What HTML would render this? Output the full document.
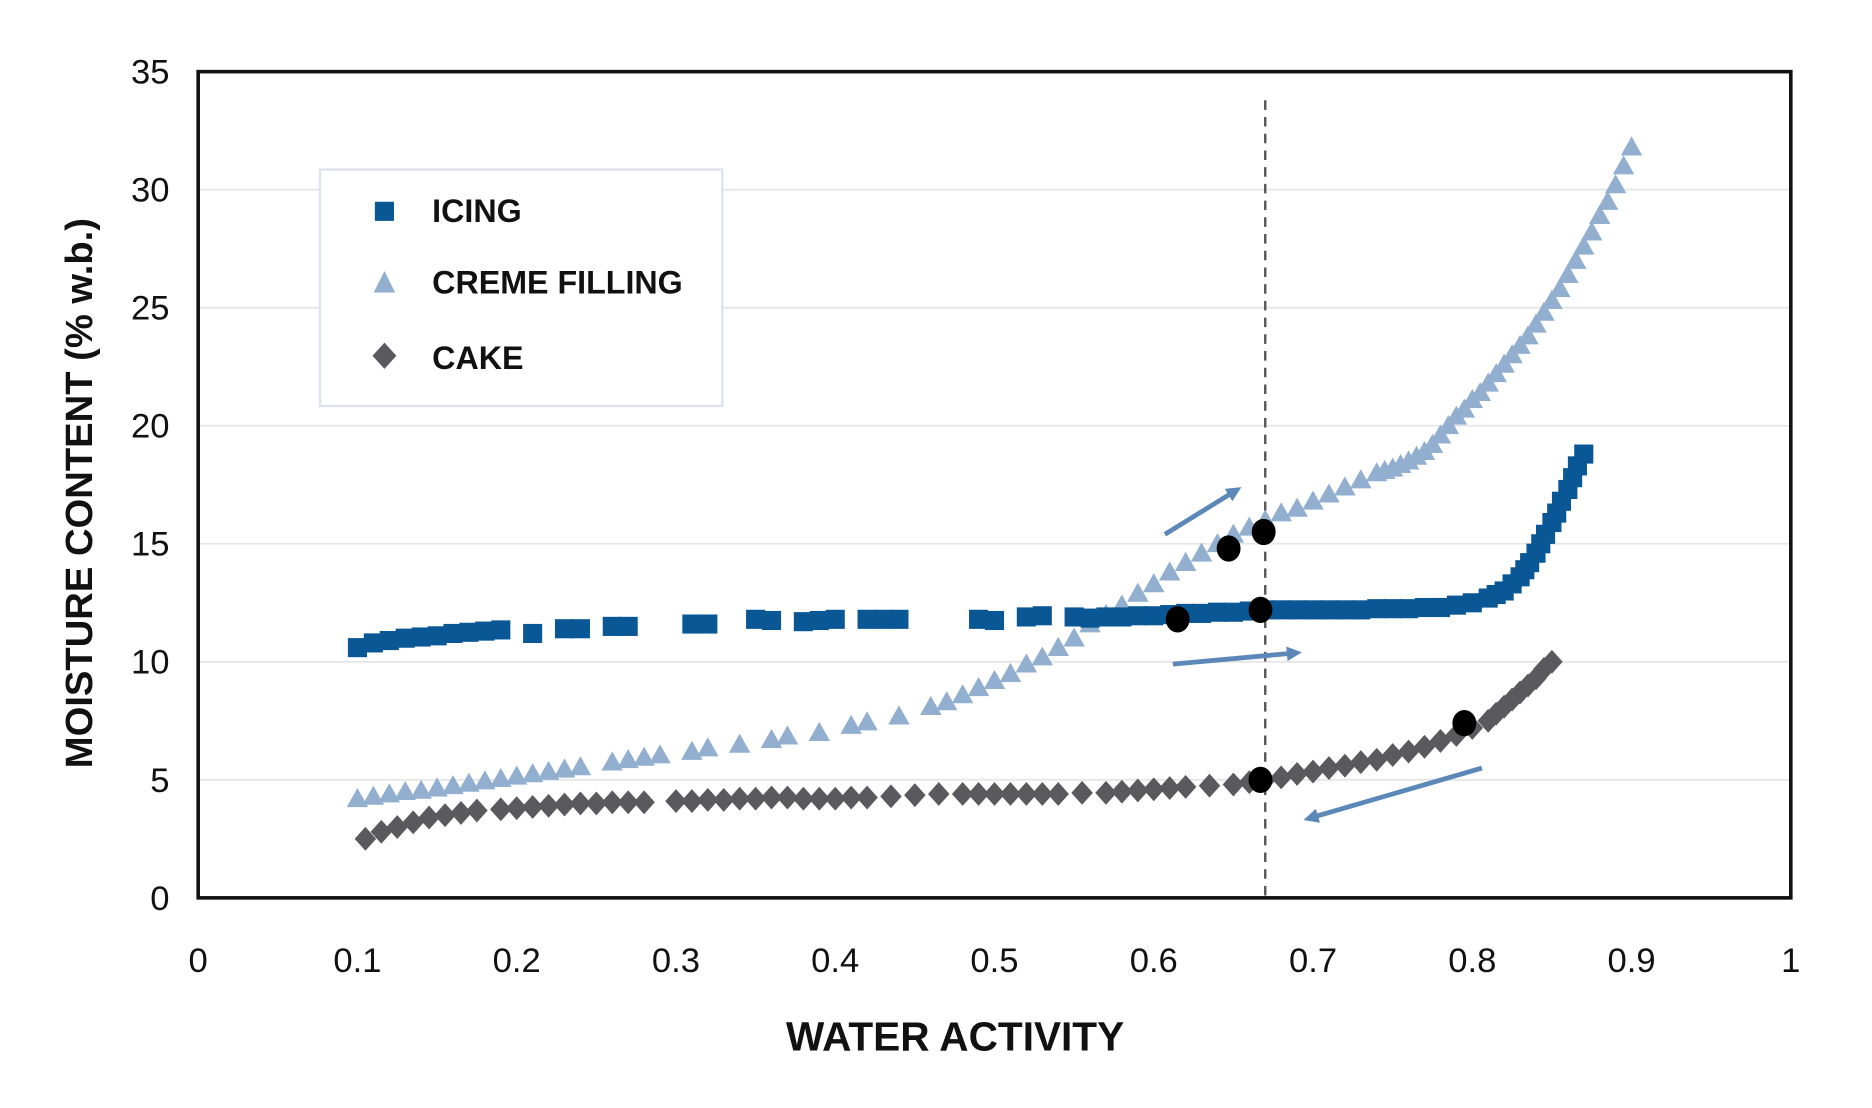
<!DOCTYPE html>
<html><head><meta charset="utf-8"><style>
html,body{margin:0;padding:0;background:#fff;}
svg{display:block;font-family:"Liberation Sans",sans-serif;}
</style></head><body>
<svg id="chart" width="1872" height="1108" viewBox="0 0 1568 928" preserveAspectRatio="none" xmlns="http://www.w3.org/2000/svg">
<g id="grid"></g>
<g id="series"></g>
<g id="axes"></g>
<text x="800" y="880" text-anchor="middle" font-size="34" font-weight="bold" fill="#111">WATER ACTIVITY</text>
<text transform="translate(77,413) rotate(-90)" text-anchor="middle" font-size="32" font-weight="bold" fill="#111">MOISTURE CONTENT (% w.b.)</text>
<g>
<rect x="268" y="142" width="337" height="198" fill="#fff" stroke="#dde3ec" stroke-width="2"/>
<g><rect x="314" y="169" width="16" height="16" fill="#0a5796"/><text x="362" y="186" font-size="27" font-weight="bold" fill="#111">ICING</text></g>
<g><polygon points="322,227 331,245 313,245" fill="#92afd0"/><text x="362" y="246" font-size="27" font-weight="bold" fill="#111">CREME FILLING</text></g>
<g><polygon points="322,287 332,298 322,309 312,298" fill="#5a5a5e"/><text x="362" y="309" font-size="27" font-weight="bold" fill="#111">CAKE</text></g>
</g>
</svg>
<script>
const xTicks=[0,0.1,0.2,0.3,0.4,0.5,0.6,0.7,0.8,0.9,1];
const xTickLabels=["0","0.1","0.2","0.3","0.4","0.5","0.6","0.7","0.8","0.9","1"];
const yTicks=[0,5,10,15,20,25,30,35];
const yTickLabels=["0","5","10","15","20","25","30","35"];
const icingX=[0.10,0.11,0.12,0.13,0.14,0.15,0.16,0.17,0.18,0.19,0.21,0.23,0.24,0.26,0.27,0.31,0.32,0.35,0.36,0.38,0.39,0.40,0.42,0.43,0.44,0.49,0.50,0.52,0.53,0.55,0.56,0.57,0.58,0.59,0.60,0.61,0.62,0.63,0.64,0.65,0.66,0.67,0.68,0.69,0.70,0.71,0.72,0.73,0.74,0.75,0.76,0.77,0.78,0.79,0.80,0.81,0.815,0.82,0.825,0.83,0.833,0.836,0.84,0.843,0.846,0.85,0.853,0.856,0.86,0.863,0.866,0.87];
const icingY=[10.6,10.8,10.9,11.0,11.05,11.1,11.2,11.25,11.3,11.35,11.2,11.4,11.4,11.5,11.5,11.6,11.6,11.8,11.75,11.7,11.75,11.8,11.8,11.8,11.8,11.8,11.75,11.9,11.95,11.9,11.85,11.9,11.9,11.95,11.95,12.0,12.05,12.05,12.1,12.1,12.15,12.2,12.2,12.2,12.2,12.2,12.2,12.2,12.25,12.25,12.25,12.3,12.3,12.4,12.5,12.7,12.85,13.0,13.3,13.6,13.9,14.2,14.6,15.0,15.4,15.9,16.3,16.8,17.3,17.8,18.3,18.8];
const cremeX=[0.10,0.11,0.12,0.13,0.14,0.15,0.16,0.17,0.18,0.19,0.20,0.21,0.22,0.23,0.24,0.26,0.27,0.28,0.29,0.31,0.32,0.34,0.36,0.37,0.39,0.41,0.42,0.44,0.46,0.47,0.48,0.49,0.50,0.51,0.52,0.53,0.54,0.55,0.56,0.57,0.58,0.59,0.60,0.61,0.62,0.63,0.64,0.65,0.66,0.67,0.68,0.69,0.70,0.71,0.72,0.73,0.74,0.745,0.75,0.755,0.76,0.765,0.77,0.775,0.78,0.785,0.79,0.795,0.80,0.805,0.81,0.815,0.82,0.825,0.83,0.835,0.84,0.845,0.85,0.855,0.86,0.865,0.87,0.875,0.88,0.885,0.89,0.895,0.90];
const cremeY=[4.2,4.3,4.4,4.5,4.55,4.65,4.75,4.85,4.95,5.05,5.15,5.25,5.35,5.45,5.55,5.75,5.85,5.95,6.05,6.2,6.35,6.5,6.7,6.85,7.0,7.3,7.45,7.7,8.1,8.3,8.6,8.9,9.2,9.5,9.9,10.2,10.6,11.0,11.6,12.0,12.4,12.9,13.3,13.8,14.2,14.6,15.0,15.4,15.7,16.0,16.3,16.5,16.8,17.1,17.4,17.7,18.0,18.1,18.2,18.35,18.5,18.7,18.9,19.2,19.6,20.0,20.4,20.7,21.1,21.4,21.8,22.2,22.6,23.0,23.4,23.8,24.3,24.8,25.3,25.8,26.4,27.0,27.6,28.2,28.9,29.5,30.2,31.0,31.8];
const cakeX=[0.105,0.115,0.125,0.135,0.145,0.155,0.165,0.175,0.19,0.20,0.21,0.22,0.23,0.24,0.25,0.26,0.27,0.28,0.30,0.31,0.32,0.33,0.34,0.35,0.36,0.37,0.38,0.39,0.40,0.41,0.42,0.435,0.45,0.465,0.48,0.49,0.50,0.51,0.52,0.53,0.54,0.555,0.57,0.58,0.59,0.60,0.61,0.62,0.635,0.65,0.66,0.67,0.68,0.69,0.70,0.71,0.72,0.73,0.74,0.75,0.76,0.77,0.78,0.79,0.80,0.81,0.815,0.82,0.825,0.83,0.835,0.84,0.845,0.85];
const cakeY=[2.5,2.8,3.0,3.2,3.4,3.5,3.6,3.7,3.75,3.8,3.85,3.9,3.95,4.0,4.0,4.05,4.05,4.05,4.1,4.1,4.15,4.15,4.2,4.2,4.25,4.25,4.2,4.2,4.2,4.25,4.25,4.3,4.35,4.4,4.4,4.4,4.4,4.4,4.4,4.4,4.4,4.45,4.45,4.5,4.55,4.6,4.65,4.7,4.75,4.8,4.9,5.0,5.1,5.25,5.35,5.5,5.6,5.75,5.85,6.05,6.2,6.4,6.65,6.9,7.2,7.5,7.8,8.1,8.4,8.7,9.0,9.3,9.7,10.0];
const keyX=[0.667,0.795,0.615,0.667,0.647,0.669];
const keyY=[5.0,7.4,11.8,12.2,14.8,15.5];
const refLineX=0.670;
const arrowFromX=[0.607,0.612,0.806];
const arrowFromY=[15.4,9.9,5.5];
const arrowToX=[0.655,0.693,0.694];
const arrowToY=[17.4,10.4,3.3];

const L=166,R=1500,T=60,B=752;
const xs=v=>L+(R-L)*v;
const ys=v=>B-(B-T)*v/35;
const NS="http://www.w3.org/2000/svg";
function mk(tag,parent,attrs){const e=document.createElementNS(NS,tag);for(const k in attrs)e.setAttribute(k,attrs[k]);parent.appendChild(e);return e;}
const grid=document.getElementById('grid'),ser=document.getElementById('series'),axes=document.getElementById('axes');
mk('rect',grid,{x:L,y:T,width:R-L,height:B-T,fill:'#fff'});
yTicks.forEach((t,i)=>{
  if(t>0&&t<35){const g=mk('line',grid,{x1:L,x2:R,y1:ys(t),y2:ys(t),stroke:'#e6e6e6','stroke-width':1.5});
  
  }
  const tx=mk('text',axes,{x:142,y:ys(t)+10,'text-anchor':'end','font-size':29,fill:'#111'});
  
  
  tx.textContent=yTickLabels[i];
});
xTicks.forEach((t,i)=>{
  const tx=mk('text',axes,{x:xs(t),y:814,'text-anchor':'middle','font-size':29,fill:'#111'});
  
  
  tx.textContent=xTickLabels[i];
});
const frame=mk('rect',axes,{x:L,y:T,width:R-L,height:B-T,fill:'none',stroke:'#111','stroke-width':3});


const rl=mk('line',ser,{x1:xs(refLineX),x2:xs(refLineX),y1:84,y2:B,stroke:'#555','stroke-width':2,'stroke-dasharray':'8,6'});


cremeX.forEach((x,i)=>{const cx=xs(x),cy=ys(cremeY[i]);
  const p=mk('polygon',ser,{points:`${cx},${cy-9} ${cx+9},${cy+7} ${cx-9},${cy+7}`,fill:'#92afd0'});
  
  });
icingX.forEach((x,i)=>{const cx=xs(x),cy=ys(icingY[i]);
  const p=mk('rect',ser,{x:cx-8,y:cy-8,width:16,height:16,fill:'#0a5796'});
  
  });
cakeX.forEach((x,i)=>{const cx=xs(x),cy=ys(cakeY[i]);
  const p=mk('polygon',ser,{points:`${cx},${cy-10} ${cx+9},${cy} ${cx},${cy+10} ${cx-9},${cy}`,fill:'#5a5a5e'});
  
  });
keyX.forEach((x,i)=>{
  const c=mk('ellipse',ser,{cx:xs(x),cy:ys(keyY[i]),rx:10,ry:11,fill:'#000'});
  
  });
arrowFromX.forEach((x,i)=>{
  const x1=xs(x),y1=ys(arrowFromY[i]),x2=xs(arrowToX[i]),y2=ys(arrowToY[i]);
  const a=Math.atan2(y2-y1,x2-x1),h=14;
  const g=mk('g',ser,{});
  
  
  mk('line',g,{x1:x1,y1:y1,x2:x2-Math.cos(a)*6,y2:y2-Math.sin(a)*6,stroke:'#5b88b8','stroke-width':4});
  mk('polygon',g,{points:`${x2},${y2} ${x2-h*Math.cos(a-0.45)},${y2-h*Math.sin(a-0.45)} ${x2-h*Math.cos(a+0.45)},${y2-h*Math.sin(a+0.45)}`,fill:'#5b88b8'});
});
</script>
</body></html>
